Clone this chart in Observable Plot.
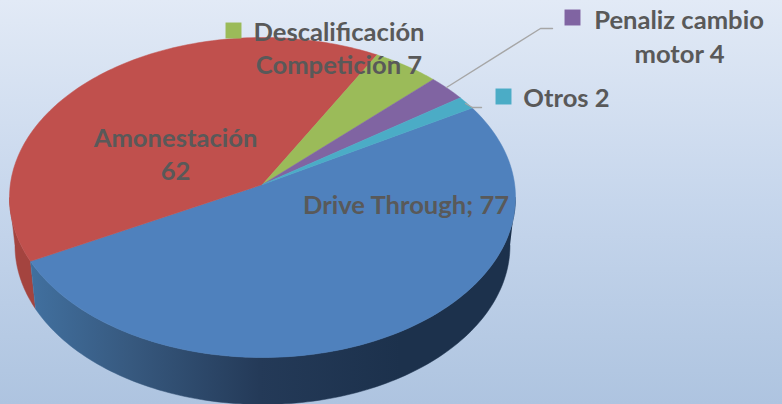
<!DOCTYPE html>
<html>
<head>
<meta charset="utf-8">
<script src="https://cdn.jsdelivr.net/npm/d3@7"></script>
<script src="https://cdn.jsdelivr.net/npm/@observablehq/plot@0.6"></script>
<style>html,body{margin:0;padding:0;background:#c6d6ec}svg{display:block}</style>
</head>
<body>
<div id="chart"></div>
<script>
// Data, clockwise from the Drive Through slice
const categories = ["Drive Through", "Amonestación", "Descalificación Competición", "Penaliz cambio motor", "Otros"];
const values = [77, 62, 7, 4, 2];
const colors = ["#4f81bd", "#c0504d", "#9bbb59", "#8064a2", "#4bacc6"];

// Pie geometry
const topFace = {cx: 262, cy: 197, rx: 253, ry: 160};
const bottomFace = {cx: 262, cy: 245, rx: 247.5, ry: 159};
const apexOffset = -13 / 160;
const startAngle = -30 * Math.PI / 180;

const total = d3.sum(values);
const toRad = v => v / total * 2 * Math.PI;

// Intersection of a ray from the apex with the unit circle: the chart's tilted view
function rim(t) {
  const dx = Math.cos(t), dy = Math.sin(t);
  const b = apexOffset * dy;
  const s = -b + Math.sqrt(b * b + 1 - apexOffset * apexOffset);
  return [s * dx, apexOffset + s * dy];
}
const onFace = (f, [u, v]) => ({x: f.cx + u * f.rx, y: f.cy + v * f.ry});
const apex = onFace(topFace, [0, apexOffset]);

let a = startAngle;
const slices = categories.map((name, i) => {
  const a0 = a, a1 = a + toRad(values[i]);
  a = a1;
  const rimPts = d3.range(0, 121).map(k => onFace(topFace, rim(a0 + (a1 - a0) * k / 120)));
  return {name, color: colors[i], a0, a1, points: [apex, ...rimPts, apex]};
});

// Side wall, between two parametric angles on the faces
function wall(p0, p1) {
  const n = 120, top = [], bot = [];
  for (let k = 0; k <= n; k++) {
    const p = p0 + (p1 - p0) * k / n;
    const uv = [Math.cos(p), Math.sin(p)];
    top.push(onFace(topFace, uv));
    bot.push(onFace(bottomFace, uv));
  }
  return [...top, ...bot.reverse()];
}
const [bu, bv] = rim(slices[0].a1);
const boundary = Math.atan2(bv, bu);
const blueWall = wall(0, boundary);
const redWall = wall(boundary, Math.PI);

// Labels and legend keys
const labels = [
  {t: "Descalificación", x: 338.5, y: 32},
  {t: "Competición 7", x: 338.5, y: 65},
  {t: "Penaliz cambio", x: 678.5, y: 20},
  {t: "motor 4", x: 679, y: 54},
  {t: "Otros 2", x: 566, y: 98},
  {t: "Amonestación", x: 175, y: 138},
  {t: "62", x: 175, y: 171},
  {t: "Drive Through; 77", x: 405.5, y: 205}
];
const keys = [
  {x: 233, y: 30, c: colors[2]},
  {x: 572, y: 17, c: colors[3]},
  {x: 503, y: 96, c: colors[4]}
];
const leaders = [
  [{x: 446, y: 87}, {x: 540, y: 28}, {x: 552, y: 28}],
  [{x: 465, y: 103}, {x: 472, y: 107}, {x: 481, y: 107}]
];

const X = {x: "x", y: "y"};
const chart = Plot.plot({
  width: 782, height: 404,
  margin: 0,
  x: {domain: [0, 782], range: [0, 782], axis: null},
  y: {domain: [0, 404], range: [0, 404], axis: null},
  style: {background: "linear-gradient(180deg,#e2eaf6 0%,#c6d6ec 50%,#aec4e0 100%)", fontFamily: "Lato, sans-serif"},
  marks: [
    Plot.line(redWall, {...X, fill: "#a4443f", stroke: "#a4443f", strokeWidth: 0.5}),
    Plot.line(blueWall, {...X, fill: "url(#wallBlue)", stroke: "url(#wallBlue)", strokeWidth: 0.5}),
    ...slices.map(s => Plot.line(s.points, {...X, fill: s.color, stroke: s.color, strokeWidth: 0.5})),
    ...leaders.map(l => Plot.line(l, {...X, stroke: "#a6a6a6", strokeWidth: 1.4})),
    ...keys.map(k => Plot.dot([k], {...X, symbol: "square", r: 9, fill: k.c, stroke: "none"})),
    Plot.text(labels, {...X, text: "t", fontSize: 25.6, fontWeight: 700, fill: "#595959", textAnchor: "middle", lineAnchor: "middle"})
  ]
});
const ns = "http://www.w3.org/2000/svg";
const defs = document.createElementNS(ns, "defs");
const grad = document.createElementNS(ns, "linearGradient");
grad.setAttribute("id", "wallBlue");
grad.setAttribute("gradientUnits", "userSpaceOnUse");
grad.setAttribute("x1", 30); grad.setAttribute("x2", 400);
grad.setAttribute("y1", 0); grad.setAttribute("y2", 0);
[["0", "#41709f"], ["0.27", "#37597f"], ["0.62", "#243a58"], ["1", "#1c314c"]].forEach(([o, c]) => {
  const st = document.createElementNS(ns, "stop");
  st.setAttribute("offset", o); st.setAttribute("stop-color", c);
  grad.appendChild(st);
});
defs.appendChild(grad);
chart.insertBefore(defs, chart.firstChild);
document.getElementById("chart").appendChild(chart);
</script>
</body>
</html>
